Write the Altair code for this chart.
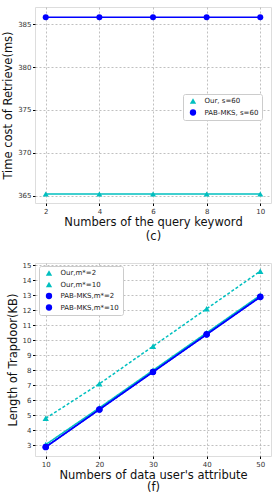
import altair as alt
import pandas as pd

# ---- data: chart (c)
keywords = [2, 4, 6, 8, 10]
our_s60 = [365.2, 365.2, 365.2, 365.2, 365.2]
pab_s60 = [385.8, 385.8, 385.8, 385.8, 385.8]
series_c = ["Our, s=60", "PAB-MKS, s=60"]

# ---- data: chart (f)
attrs = [10, 20, 30, 40, 50]
our_m2 = [3.05, 5.5, 8.0, 10.5, 13.0]
our_m10 = [4.8, 7.1, 9.6, 12.1, 14.6]
pab_m2 = [2.9, 5.4, 7.9, 10.4, 12.9]
pab_m10 = [2.88, 5.38, 7.88, 10.38, 12.88]
series_f = ["Our,m*=2", "Our,m*=10", "PAB-MKS,m*=2", "PAB-MKS,m*=10"]

CYAN = "#00bfbf"
BLUE = "#0000ff"

rows = []
for x, v in zip(keywords, our_s60):
    rows.append({"x": x, "y": v, "sc": series_c[0]})
for x, v in zip(keywords, pab_s60):
    rows.append({"x": x, "y": v, "sc": series_c[1]})
df_c = pd.DataFrame(rows)
df_c["kc"] = df_c["sc"]

rows = []
for name, vals in zip(series_f, [our_m2, our_m10, pab_m2, pab_m10]):
    for x, v in zip(attrs, vals):
        rows.append({"x": x, "y": v, "sf": name})
df_f = pd.DataFrame(rows)
df_f["kf"] = df_f["sf"]


def legend(x, y):
    return alt.Legend(
        orient="none", legendX=x, legendY=y, title=None,
        labelFontSize=7, labelFont="DejaVu Sans", labelColor="#222",
        symbolSize=40, symbolStrokeWidth=0, symbolOpacity=1,
        rowPadding=3.5, padding=3.5, symbolOffset=3, labelOffset=8,
        fillColor="white", strokeColor="#cccccc", cornerRadius=2,
    )


axis_common = dict(
    labelFontSize=7, labelFont="DejaVu Sans", labelColor="#333",
    titleFont="DejaVu Sans", titleFontWeight="normal", titleColor="#111",
    tickColor="black", tickSize=2.5, labelPadding=1.5,
    grid=True, gridColor="#b0b0b0", gridDash=[2, 2], gridWidth=0.8,
    domain=False,
)

# ---- chart (c)
xc = alt.X("x:Q", scale=alt.Scale(domain=[1.6, 10.4], nice=False, zero=False),
           axis=alt.Axis(values=keywords, title=["Numbers of the query keyword", "(c)"],
                         titleFontSize=11.5, titlePadding=2, titleLineHeight=14,
                         **axis_common))
yc = alt.Y("y:Q", scale=alt.Scale(domain=[364.15, 387.0], nice=False, zero=False),
           axis=alt.Axis(values=[365, 370, 375, 380, 385], title="Time cost of Retrieve(ms)",
                         titleFontSize=11.5, titlePadding=4, **axis_common))
cscale_c = alt.Scale(domain=series_c, range=[CYAN, BLUE])
col_c = alt.Color("sc:N", scale=cscale_c, legend=legend(148, 87))
col_c_nl = alt.Color("sc:N", scale=cscale_c, legend=None)
shp_c = alt.Shape("kc:N", scale=alt.Scale(domain=series_c, range=["triangle-up", "circle"]), legend=None)

base_c = alt.Chart(df_c)
lines_c = base_c.mark_line(strokeWidth=1.5).encode(x=xc, y=yc, color=col_c)
pts_c = base_c.mark_point(filled=True, size=36, opacity=1).encode(x=xc, y=yc, color=col_c_nl, shape=shp_c)
chart_c = alt.layer(lines_c, pts_c).properties(width=236, height=196)

# ---- chart (f)
xf = alt.X("x:Q", scale=alt.Scale(domain=[8, 52], nice=False, zero=False),
           axis=alt.Axis(values=attrs, title=["Numbers of data user's attribute", "(f)"],
                         titleFontSize=11.5, titlePadding=2, titleLineHeight=12,
                         **axis_common))
yf = alt.Y("y:Q", scale=alt.Scale(domain=[2.29, 15.15], nice=False, zero=False),
           axis=alt.Axis(values=list(range(3, 16)), title="Length of Trapdoor(KB)",
                         titleFontSize=11.5, titlePadding=4, **axis_common))
cscale_f = alt.Scale(domain=series_f, range=[CYAN, CYAN, BLUE, BLUE])
col_f = alt.Color("sf:N", scale=cscale_f, legend=legend(4, 3))
col_f_nl = alt.Color("sf:N", scale=cscale_f, legend=None)
shp_f = alt.Shape("kf:N", scale=alt.Scale(domain=series_f,
                                          range=["triangle-up", "triangle-up", "circle", "circle"]),
                  legend=None)
dash_f = alt.StrokeDash("kf:N", scale=alt.Scale(domain=series_f,
                                                range=[[1, 0], [3, 2], [1, 0], [1, 0]]),
                        legend=None)

base_f = alt.Chart(df_f)
lines_f = base_f.mark_line(strokeWidth=1.5).encode(x=xf, y=yf, color=col_f, strokeDash=dash_f)
pts_f = base_f.mark_point(filled=True, size=40, opacity=1).encode(x=xf, y=yf, color=col_f_nl, shape=shp_f)
chart_f = alt.layer(lines_f, pts_f).properties(width=236, height=193)

chart = alt.vconcat(chart_c, chart_f, spacing=18).resolve_scale(
    color="independent", shape="independent", strokeDash="independent"
).resolve_legend(color="independent").properties(
    padding={"left": 2, "top": 6, "right": 0, "bottom": 0},
).configure_view(stroke="black", strokeWidth=1).configure(background="white")

chart.save("out.html", embed_options={"renderer": "svg", "actions": False})
